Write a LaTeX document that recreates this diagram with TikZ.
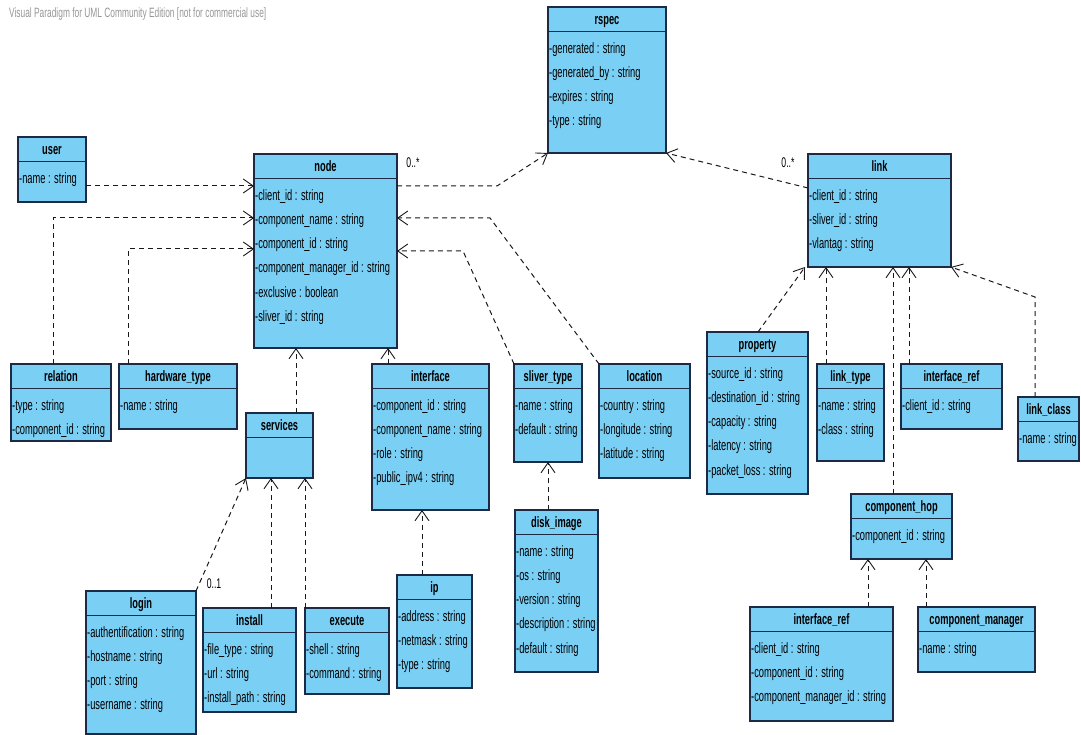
\documentclass[tikz,border=0pt]{standalone}
\usepackage{fontspec}
\setmainfont{Liberation Sans}[FakeStretch=0.62]
\usetikzlibrary{arrows.meta,calc}
\definecolor{classfill}{RGB}{122,207,245}
\definecolor{classline}{RGB}{28,42,70}
\definecolor{markgray}{RGB}{150,150,150}
\tikzset{classbox/.style={
            draw=classline,
            fill=classfill,
            line width=1.2pt,
            inner sep=0pt,
            outer sep=0pt
        },
        headline/.style={
            draw=classline,
            line width=1.2pt
        },
        classtitle/.style={
            font=\bfseries\fontsize{15}{17}\selectfont,
            inner sep=0pt,
            text height=11pt,
            text depth=1.5pt
        },
        attr/.style={
            font=\fontsize{15}{17}\selectfont,
            anchor=west,
            inner sep=1pt,
            text height=11pt,
            text depth=1.5pt
        },
        mult/.style={
            font=\fontsize{14}{16}\selectfont,
            inner sep=0pt
        },
        watermark/.style={
            font=\fontsize{13.5}{15}\selectfont,
            text=markgray,
            inner sep=0pt
        },
        dep/.style={
            draw=black!90,
            line width=1pt,
            dash pattern=on 5pt off 4pt,
            -{Straight Barb[length=10pt,width=14pt,line width=0.9pt]}
        }
    }
\newcommand{\umlclass}[7]{%
  \node[classbox, anchor=north west, minimum width=#4pt, minimum height=#5pt] (#1) at (#2,#3) {};
  \draw[headline] ([yshift=-24.5pt]#1.north west) -- ([yshift=-24.5pt]#1.north east);
  \node[classtitle] (#1-title) at ([yshift=-12.5pt]#1.north) {#6};
  \foreach \a [count=\i] in {#7}
    \node[attr] (#1-\i) at ([yshift={-41.5pt-(\i-1)*24.2pt}]#1.north west) {\a};
}
\begin{document}
\begin{tikzpicture}[x=1pt,y=-1pt]
\useasboundingbox (0,0) rectangle (1081,735);
\node[watermark, anchor=west] (mark) at (9,14) {Visual Paradigm for UML Community Edition [not for commercial use]};
\umlclass{rspec}{548}{7}{118}{146}{rspec}{-generated : string,-generated\_by : string,-expires : string,-type : string}
\umlclass{user}{18}{137}{68}{65}{user}{-name : string}
\umlclass{nodeclass}{254}{154}{143}{194}{node}{-client\_id : string,-component\_name : string,-component\_id : string,-component\_manager\_id : string,-exclusive : boolean,-sliver\_id : string}
\umlclass{link}{808}{154}{143}{113}{link}{-client\_id : string,-sliver\_id : string,-vlantag : string}
\umlclass{relation}{11}{364}{100}{77}{relation}{-type : string,-component\_id : string}
\umlclass{hardwaretype}{119}{364}{118}{65}{hardware\_type}{-name : string}
\umlclass{services}{246}{413}{67}{65}{services}{}
\umlclass{interface}{372}{364}{117}{146}{interface}{-component\_id : string,-component\_name : string,-role : string,-public\_ipv4 : string}
\umlclass{slivertype}{514}{364}{68}{98}{sliver\_type}{-name : string,-default : string}
\umlclass{location}{599}{364}{91}{114}{location}{-country : string,-longitude : string,-latitude : string}
\umlclass{property}{707}{332}{101}{162}{property}{-source\_id : string,-destination\_id : string,-capacity : string,-latency : string,-packet\_loss : string}
\umlclass{linktype}{817}{364}{67}{97}{link\_type}{-name : string,-class : string}
\umlclass{ifref}{901}{364}{101}{65}{interface\_ref}{-client\_id : string}
\umlclass{linkclass}{1018}{397}{61}{64}{link\_class}{-name : string}
\umlclass{comphop}{851}{494}{101}{65}{component\_hop}{-component\_id : string}
\umlclass{hopifref}{750}{607}{143}{114}{interface\_ref}{-client\_id : string,-component\_id : string,-component\_manager\_id : string}
\umlclass{compmanager}{918}{607}{117}{65}{component\_manager}{-name : string}
\umlclass{login}{86}{591}{110}{143}{login}{-authentification : string,-hostname : string,-port : string,-username : string}
\umlclass{install}{203}{608}{93}{104}{install}{-file\_type : string,-url : string,-install\_path : string}
\umlclass{execute}{305}{608}{84}{86}{execute}{-shell : string,-command : string}
\umlclass{ip}{397}{575}{75}{113}{ip}{-address : string,-netmask : string,-type : string}
\umlclass{diskimage}{515}{510}{83}{162}{disk\_image}{-name : string,-os : string,-version : string,-description : string,-default : string}
\draw[dep] (user.east |- 0,186) -- (nodeclass.west |- 0,186);
\draw[dep] (relation.north -| 53,0) |- (nodeclass.west |- 0,218);
\draw[dep] (hardwaretype.north -| 128,0) |- (nodeclass.west |- 0,249);
\draw[dep] (services.north -| 296,0) -- (nodeclass.south -| 296,0);
\draw[dep] (interface.north -| 388,0) -- (nodeclass.south -| 388,0);
\draw[dep] (slivertype.north west) -- (463,251) -- (nodeclass.east |- 0,251);
\draw[dep] (location.north west) -- (490,218) -- (nodeclass.east |- 0,218);
\draw[dep] (nodeclass.east |- 0,186) -- (497,186) -- (rspec.south west);
\draw[dep] (link.west |- 0,188) -- (rspec.south east);
\draw[dep] (property.north -| 758,0) -- (link.south -| 805,0);
\draw[dep] (linktype.north -| 826,0) -- (link.south -| 826,0);
\draw[dep] (ifref.north -| 909,0) -- (link.south -| 909,0);
\draw[dep] (comphop.north -| 893,0) -- (link.south -| 893,0);
\draw[dep] (linkclass.north -| 1035,0) -- (1035,297) -- (link.south east);
\draw[dep] (hopifref.north -| 868,0) -- (comphop.south -| 868,0);
\draw[dep] (compmanager.north -| 926,0) -- (comphop.south -| 926,0);
\draw[dep] (login.north east) -- (services.south west);
\draw[dep] (install.north -| 271,0) -- (services.south -| 271,0);
\draw[dep] (execute.north west) -- (services.south -| execute.north west);
\draw[dep] (ip.north -| 422,0) -- (interface.south -| 422,0);
\draw[dep] (diskimage.north -| 548,0) -- (slivertype.south -| 548,0);
\node[mult] (nodemult) at (413,163) {0..*};
\node[mult] (linkmult) at (788,163) {0..*};
\node[mult] (loginmult) at (214,584) {0..1};
\end{tikzpicture}
\end{document}
